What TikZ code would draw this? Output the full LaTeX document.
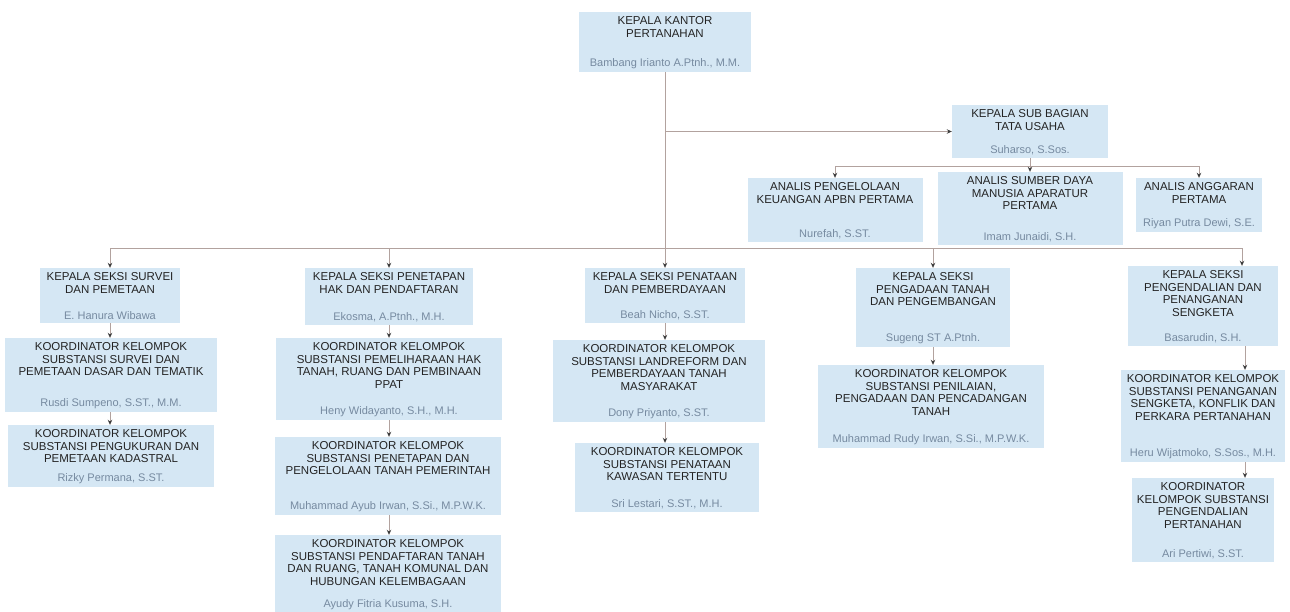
\documentclass[tikz,border=0pt]{standalone}
\usepackage{fontspec}
\setmainfont{Liberation Sans}
\usetikzlibrary{arrows.meta}
\definecolor{boxfill}{RGB}{213,231,244}
\definecolor{ttl}{RGB}{35,35,35}
\definecolor{nmc}{RGB}{118,138,160}
\definecolor{lnc}{RGB}{178,162,158}
\definecolor{tipc}{RGB}{60,60,60}
\tikzset{
  box/.style={fill=boxfill, draw=none, inner sep=0pt},
  ttlnode/.style={anchor=north, align=center, text=ttl, font=\fontsize{11.5}{12.5}\selectfont, inner sep=0pt, yshift=-4.5pt},
  nmnode/.style={anchor=south, align=center, text=nmc, font=\fontsize{11}{12}\selectfont, inner sep=0pt, yshift=3.5pt},
  link/.style={draw=lnc, line width=0.9pt},
  arr/.style={link, -{Stealth[length=5pt,width=4.5pt,color=tipc]}},
}
\newcommand{\orgbox}[7]{%
  \node[box, minimum width=#4pt, minimum height=#5pt] (#1) at (#2,#3) {};
  \node[ttlnode] (#1t) at (#1.north) {#6};
  \node[nmnode] (#1n) at (#1.south) {#7};
}
\begin{document}
\begin{tikzpicture}[x=1pt,y=-1pt]
\useasboundingbox[fill=white] (0,0) rectangle (1290,611);

\orgbox{top}{665}{42}{172}{60}{KEPALA KANTOR\\PERTANAHAN}{Bambang Irianto A.Ptnh., M.M.}
\orgbox{sub}{1030}{131.5}{156}{53}{KEPALA SUB BAGIAN\\TATA USAHA}{Suharso, S.Sos.}
\orgbox{a1}{835}{210}{175}{64}{ANALIS PENGELOLAAN\\KEUANGAN APBN PERTAMA}{Nurefah, S.ST.}
\orgbox{a2}{1030}{208.5}{185}{73}{ANALIS SUMBER DAYA\\MANUSIA APARATUR\\PERTAMA}{Imam Junaidi, S.H.}
\orgbox{a3}{1199}{205}{126}{54}{ANALIS ANGGARAN\\PERTAMA}{Riyan Putra Dewi, S.E.}

\orgbox{c1}{110}{295.5}{140}{55}{KEPALA SEKSI SURVEI\\DAN PEMETAAN}{E. Hanura Wibawa}
\orgbox{c1k1}{111}{375}{212}{74}{KOORDINATOR KELOMPOK\\SUBSTANSI SURVEI DAN\\PEMETAAN DASAR DAN TEMATIK}{Rusdi Sumpeno, S.ST., M.M.}
\orgbox{c1k2}{111}{456}{206}{62}{KOORDINATOR KELOMPOK\\SUBSTANSI PENGUKURAN DAN\\PEMETAAN KADASTRAL}{Rizky Permana, S.ST.}

\orgbox{c2}{389}{296.5}{168}{57}{KEPALA SEKSI PENETAPAN\\HAK DAN PENDAFTARAN}{Ekosma, A.Ptnh., M.H.}
\orgbox{c2k1}{389}{379}{226}{82}{KOORDINATOR KELOMPOK\\SUBSTANSI PEMELIHARAAN HAK\\TANAH, RUANG DAN PEMBINAAN\\PPAT}{Heny Widayanto, S.H., M.H.}
\orgbox{c2k2}{388}{476}{226}{78}{KOORDINATOR KELOMPOK\\SUBSTANSI PENETAPAN DAN\\PENGELOLAAN TANAH PEMERINTAH}{Muhammad Ayub Irwan, S.Si., M.P.W.K.}
\orgbox{c2k3}{388}{574}{226}{78}{KOORDINATOR KELOMPOK\\SUBSTANSI PENDAFTARAN TANAH\\DAN RUANG, TANAH KOMUNAL DAN\\HUBUNGAN KELEMBAGAAN}{Ayudy Fitria Kusuma, S.H.}

\orgbox{c3}{665}{295.5}{160}{55}{KEPALA SEKSI PENATAAN\\DAN PEMBERDAYAAN}{Beah Nicho, S.ST.}
\orgbox{c3k1}{659}{381}{212}{82}{KOORDINATOR KELOMPOK\\SUBSTANSI LANDREFORM DAN\\PEMBERDAYAAN TANAH\\MASYARAKAT}{Dony Priyanto, S.ST.}
\orgbox{c3k2}{667}{477.5}{184}{69}{KOORDINATOR KELOMPOK\\SUBSTANSI PENATAAN\\KAWASAN TERTENTU}{Sri Lestari, S.ST., M.H.}

\orgbox{c4}{933}{307.5}{154}{79}{KEPALA SEKSI\\PENGADAAN TANAH\\DAN PENGEMBANGAN}{Sugeng ST A.Ptnh.}
\orgbox{c4k1}{931}{406.5}{226}{83}{KOORDINATOR KELOMPOK\\SUBSTANSI PENILAIAN,\\PENGADAAN DAN PENCADANGAN\\TANAH}{Muhammad Rudy Irwan, S.Si., M.P.W.K.}

\orgbox{c5}{1203}{306}{150}{80}{KEPALA SEKSI\\PENGENDALIAN DAN\\PENANGANAN\\SENGKETA}{Basarudin, S.H.}
\orgbox{c5k1}{1203}{416}{164}{92}{KOORDINATOR KELOMPOK\\SUBSTANSI PENANGANAN\\SENGKETA, KONFLIK DAN\\PERKARA PERTANAHAN}{Heru Wijatmoko, S.Sos., M.H.}
\orgbox{c5k2}{1203}{520}{142}{84}{KOORDINATOR\\KELOMPOK SUBSTANSI\\PENGENDALIAN\\PERTANAHAN}{Ari Pertiwi, S.ST.}

% trunk and sub bagian
\draw[arr] (top.south) -- (c3.north);
\draw[arr] (top.south |- sub.west) -- (sub.west);
\coordinate (hub) at (1030,166);
\draw[link] (sub.south) -- (hub);
\draw[link] (a1.north |- hub) -- (a3.north |- hub);
\draw[arr] (a1.north |- hub) -- (a1.north);
\draw[arr] (a2.north |- hub) -- (a2.north);
\draw[arr] (a3.north |- hub) -- (a3.north);

% bus to seksi
\coordinate (bus) at (665,248);
\coordinate (c5top) at ([xshift=39pt]c5.north);
\draw[link] (c1.north |- bus) -- (c5top |- bus);
\draw[arr] (c1.north |- bus) -- (c1.north);
\draw[arr] (c2.north |- bus) -- (c2.north);
\draw[arr] (c4.north |- bus) -- (c4.north);
\draw[arr] (c5top |- bus) -- (c5top);

% columns
\draw[arr] (c1.south) -- (c1.south |- c1k1.north);
\draw[arr] (c1.south |- c1k1.south) -- (c1.south |- c1k2.north);
\draw[arr] (c2.south) -- (c2.south |- c2k1.north);
\draw[arr] (c2.south |- c2k1.south) -- (c2.south |- c2k2.north);
\draw[arr] (c2.south |- c2k2.south) -- (c2.south |- c2k3.north);
\draw[arr] (c3.south) -- (c3.south |- c3k1.north);
\draw[arr] (c3.south |- c3k1.south) -- (c3.south |- c3k2.north);
\draw[arr] (c4.south) -- (c4.south |- c4k1.north);
\coordinate (c5bot) at ([xshift=42pt]c5.south);
\draw[arr] (c5bot) -- (c5bot |- c5k1.north);
\draw[arr] (c5bot |- c5k1.south) -- (c5bot |- c5k2.north);
\end{tikzpicture}
\end{document}
